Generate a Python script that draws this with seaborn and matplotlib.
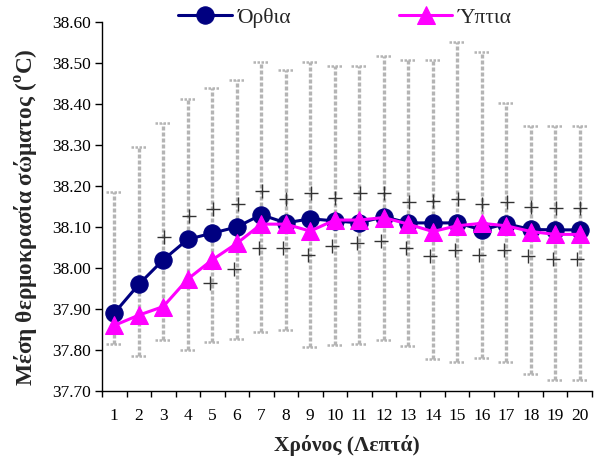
import numpy as np
import pandas as pd
import matplotlib
matplotlib.use("Agg")
import matplotlib.pyplot as plt
import seaborn as sns
from matplotlib.ticker import FixedLocator, FormatStrFormatter

nan = float("nan")
minutes = list(range(1, 21))
orthia = [37.89, 37.96, 38.02, 38.07, 38.085, 38.10, 38.13, 38.11, 38.12, 38.115,
          38.11, 38.125, 38.11, 38.11, 38.11, 38.093, 38.108, 38.094, 38.093, 38.093]
yptia = [37.86, 37.885, 37.906, 37.973, 38.02, 38.06, 38.107, 38.107, 38.09, 38.117,
         38.117, 38.123, 38.107, 38.089, 38.103, 38.109, 38.103, 38.089, 38.082, 38.082]
err_high = [38.186, 38.296, 38.353, 38.413, 38.44, 38.459, 38.503, 38.483, 38.503, 38.493,
            38.493, 38.517, 38.507, 38.507, 38.552, 38.526, 38.402, 38.346, 38.346, 38.346]
err_low = [37.814, 37.786, 37.824, 37.80, 37.82, 37.828, 37.843, 37.849, 37.808, 37.812,
           37.814, 37.824, 37.81, 37.778, 37.77, 37.78, 37.77, 37.741, 37.728, 37.728]
plus_high = [nan, nan, 38.076, 38.128, 38.144, 38.155, 38.188, 38.168, 38.183, 38.17,
             38.182, 38.182, 38.16, 38.164, 38.168, 38.155, 38.16, 38.15, 38.147, 38.147]
plus_low = [nan, nan, nan, nan, 37.963, 37.998, 38.048, 38.048, 38.032, 38.054,
            38.06, 38.067, 38.048, 38.029, 38.044, 38.032, 38.044, 38.029, 38.022, 38.022]
labels = ["Όρθια", "Ύπτια"]

sns.set_style("white")
plt.rcParams["font.family"] = ["Liberation Serif", "DejaVu Serif"]
plt.rcParams["mathtext.fontset"] = "custom"
plt.rcParams["mathtext.rm"] = "Liberation Serif:bold"
plt.rcParams["mathtext.bf"] = "Liberation Serif:bold"

fig = plt.figure(figsize=(5.97, 4.61), dpi=100)
ax = fig.add_axes([0.1709, 0.1518, 0.8207, 0.8005])

xs = np.array(minutes, dtype=float)
bar_col = "#b4b4b4"
ax.vlines(xs, err_low, err_high, colors=bar_col, linestyles=(0, (1.2, 0.6)), linewidth=2.4, zorder=1)
ax.hlines(err_high, xs - 0.33, xs + 0.33, colors=bar_col, linestyles=(0, (1.0, 0.6)), linewidth=1.8, zorder=1)
ax.hlines(err_low, xs - 0.33, xs + 0.33, colors=bar_col, linestyles=(0, (1.0, 0.6)), linewidth=1.8, zorder=1)

ax.scatter(xs + 0.03, plus_high, marker="+", s=95, color="#333333", linewidths=1.0, zorder=2)
ax.scatter(xs - 0.1, plus_low, marker="+", s=95, color="#333333", linewidths=1.0, zorder=2)

df = pd.DataFrame({"x": minutes * 2, "y": orthia + yptia,
                   "s": [labels[0]] * 20 + [labels[1]] * 20})
sns.lineplot(data=df[df.s == labels[0]], x="x", y="y", color="#000080", marker="o",
             markersize=12.5, markeredgecolor="#000080", linewidth=2.2, label=labels[0], ax=ax, zorder=3)
sns.lineplot(data=df[df.s == labels[1]], x="x", y="y", color="#FF00FF", marker="^",
             markersize=13, markeredgecolor="#FF00FF", linewidth=2.2, label=labels[1], ax=ax, zorder=4)

ax.set_xlim(0.5, 20.5)
ax.set_ylim(37.70, 38.60)
ax.set_yticks(np.arange(37.70, 38.601, 0.10))
ax.yaxis.set_major_formatter(FormatStrFormatter("%.2f"))
ax.set_xticks(minutes)
ax.set_xticklabels([str(m) for m in minutes])
ax.xaxis.set_minor_locator(FixedLocator(np.arange(0.5, 20.6, 1.0)))
ax.tick_params(axis="x", which="major", length=0, pad=12, labelsize=12.5, colors="black")
ax.tick_params(axis="x", which="minor", length=4, width=1, direction="out", color="black", bottom=True)
ax.tick_params(axis="y", which="major", length=5, width=1, direction="out", left=True,
               labelsize=12.5, colors="black", pad=3)

for s in ["top", "right"]:
    ax.spines[s].set_visible(False)
for s in ["left", "bottom"]:
    ax.spines[s].set_color("black")
    ax.spines[s].set_linewidth(1.0)

ax.set_xlabel("Χρόνος (Λεπτά)", fontsize=15.5, fontweight="bold", labelpad=8)
ax.set_ylabel(r"Μέση θερμοκρασία σώματος ($^{\mathrm{o}}$C)", fontsize=16.8, fontweight="bold")
ax.yaxis.set_label_coords(-0.128, 0.47)

leg = ax.legend(loc="center", bbox_to_anchor=(0.496, 1.011), ncol=2, frameon=False,
                fontsize=15.5, handlelength=2.5, columnspacing=5.0, handletextpad=0.25,
                borderaxespad=0, borderpad=0)

fig.savefig("out.png", dpi=100)
